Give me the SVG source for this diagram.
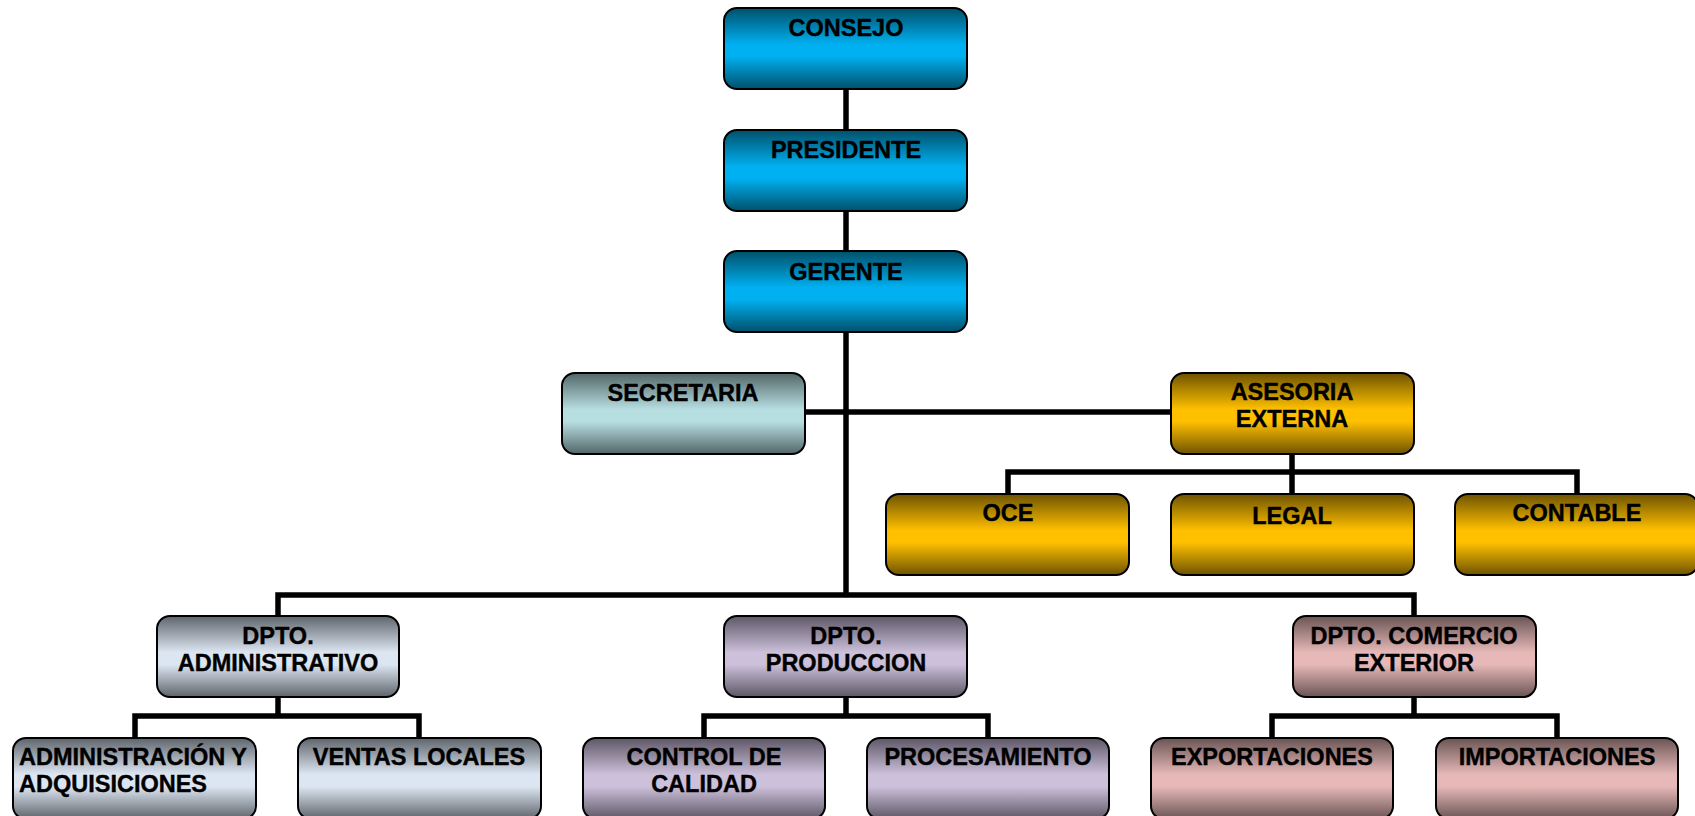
<svg xmlns="http://www.w3.org/2000/svg" width="1695" height="816" viewBox="0 0 1695 816">
<defs>
<linearGradient id="gBlue" x1="0" y1="0" x2="0" y2="1">
<stop offset="0" stop-color="#00506b"/><stop offset="0.45" stop-color="#00b0f0"/><stop offset="0.6" stop-color="#00b0f0"/><stop offset="1" stop-color="#00506b"/>
</linearGradient>
<linearGradient id="gTeal" x1="0" y1="0" x2="0" y2="1">
<stop offset="0" stop-color="#536668"/><stop offset="0.45" stop-color="#b7dee1"/><stop offset="0.6" stop-color="#b7dee1"/><stop offset="1" stop-color="#536668"/>
</linearGradient>
<linearGradient id="gGold" x1="0" y1="0" x2="0" y2="1">
<stop offset="0" stop-color="#6e5300"/><stop offset="0.45" stop-color="#ffc000"/><stop offset="0.6" stop-color="#ffc000"/><stop offset="1" stop-color="#6e5300"/>
</linearGradient>
<linearGradient id="gSteel" x1="0" y1="0" x2="0" y2="1">
<stop offset="0" stop-color="#5f646b"/><stop offset="0.45" stop-color="#dce6f2"/><stop offset="0.6" stop-color="#dce6f2"/><stop offset="1" stop-color="#5f646b"/>
</linearGradient>
<linearGradient id="gPurple" x1="0" y1="0" x2="0" y2="1">
<stop offset="0" stop-color="#5d5766"/><stop offset="0.45" stop-color="#ccc0da"/><stop offset="0.6" stop-color="#ccc0da"/><stop offset="1" stop-color="#5d5766"/>
</linearGradient>
<linearGradient id="gPink" x1="0" y1="0" x2="0" y2="1">
<stop offset="0" stop-color="#6a5454"/><stop offset="0.45" stop-color="#e6b9b8"/><stop offset="0.6" stop-color="#e6b9b8"/><stop offset="1" stop-color="#6a5454"/>
</linearGradient>
</defs>
<style>
.box{stroke:#000;stroke-width:2;}
.t{font-family:"Liberation Sans",Arial,sans-serif;font-weight:bold;font-size:23.5px;fill:#000;stroke:#000;stroke-width:0.4;text-anchor:middle;}
.tl{text-anchor:start;}
.c{fill:none;stroke:#000;stroke-width:5.5;}
</style>
<rect width="1695" height="816" fill="#fff"/>
<g id="connectors">
<path class="c" d="M846 89V595"/>
<path class="c" d="M805 412H1171"/>
<path class="c" d="M1292 454V472M1008 494V472H1577V494M1292 472V494"/>
<path class="c" d="M278 616V595H1414V616"/>
<path class="c" d="M278 697V716M135 738V716H419V738"/>
<path class="c" d="M846 697V716M704 738V716H988V738"/>
<path class="c" d="M1414 697V716M1272 738V716H1557V738"/>
</g>
<g id="consejo"><rect class="box" x="724" y="8" width="243" height="81" rx="13" fill="url(#gBlue)"/><text class="t" x="846" y="36">CONSEJO</text></g>
<g id="presidente"><rect class="box" x="724" y="130" width="243" height="81" rx="13" fill="url(#gBlue)"/><text class="t" x="846" y="158">PRESIDENTE</text></g>
<g id="gerente"><rect class="box" x="724" y="251" width="243" height="81" rx="13" fill="url(#gBlue)"/><text class="t" x="846" y="280">GERENTE</text></g>
<g id="secretaria"><rect class="box" x="562" y="373" width="243" height="81" rx="13" fill="url(#gTeal)"/><text class="t" x="683" y="401">SECRETARIA</text></g>
<g id="asesoria"><rect class="box" x="1171" y="373" width="243" height="81" rx="13" fill="url(#gGold)"/><text class="t" x="1292" y="400">ASESORIA</text><text class="t" x="1292" y="427">EXTERNA</text></g>
<g id="oce"><rect class="box" x="886" y="494" width="243" height="81" rx="13" fill="url(#gGold)"/><text class="t" x="1008" y="521">OCE</text></g>
<g id="legal"><rect class="box" x="1171" y="494" width="243" height="81" rx="13" fill="url(#gGold)"/><text class="t" x="1292" y="524">LEGAL</text></g>
<g id="contable"><rect class="box" x="1455" y="494" width="243" height="81" rx="13" fill="url(#gGold)"/><text class="t" x="1577" y="521">CONTABLE</text></g>
<g id="dpto-adm"><rect class="box" x="157" y="616" width="242" height="81" rx="13" fill="url(#gSteel)"/><text class="t" x="278" y="644">DPTO.</text><text class="t" x="278" y="671">ADMINISTRATIVO</text></g>
<g id="dpto-prod"><rect class="box" x="724" y="616" width="243" height="81" rx="13" fill="url(#gPurple)"/><text class="t" x="846" y="644">DPTO.</text><text class="t" x="846" y="671">PRODUCCION</text></g>
<g id="dpto-com"><rect class="box" x="1293" y="616" width="243" height="81" rx="13" fill="url(#gPink)"/><text class="t" x="1414" y="644">DPTO. COMERCIO</text><text class="t" x="1414" y="671">EXTERIOR</text></g>
<g id="adm-adq"><rect class="box" x="13" y="738" width="243" height="81" rx="13" fill="url(#gSteel)"/><text class="t tl" x="19" y="765">ADMINISTRACIÓN Y</text><text class="t tl" x="19" y="792">ADQUISICIONES</text></g>
<g id="ventas"><rect class="box" x="298" y="738" width="243" height="81" rx="13" fill="url(#gSteel)"/><text class="t" x="419" y="765">VENTAS LOCALES</text></g>
<g id="control"><rect class="box" x="583" y="738" width="242" height="81" rx="13" fill="url(#gPurple)"/><text class="t" x="704" y="765">CONTROL DE</text><text class="t" x="704" y="792">CALIDAD</text></g>
<g id="procesamiento"><rect class="box" x="867" y="738" width="242" height="81" rx="13" fill="url(#gPurple)"/><text class="t" x="988" y="765">PROCESAMIENTO</text></g>
<g id="exportaciones"><rect class="box" x="1151" y="738" width="242" height="81" rx="13" fill="url(#gPink)"/><text class="t" x="1272" y="765">EXPORTACIONES</text></g>
<g id="importaciones"><rect class="box" x="1436" y="738" width="242" height="81" rx="13" fill="url(#gPink)"/><text class="t" x="1557" y="765">IMPORTACIONES</text></g>
</svg>
